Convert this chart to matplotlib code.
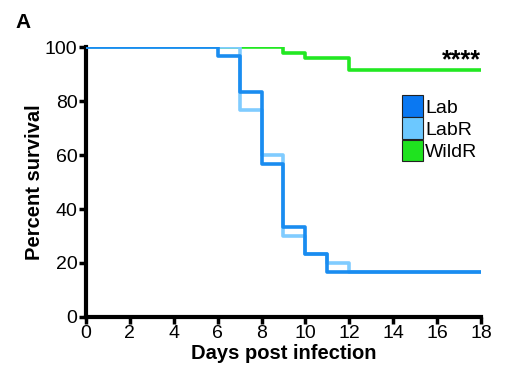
import numpy as np
import matplotlib.pyplot as plt
from matplotlib.patches import Patch

plt.rcParams['font.family'] = ['Liberation Sans', 'DejaVu Sans']

# step survival curves (day, percent)
lab_days = [0, 6, 7, 8, 9, 10, 11, 18]
lab_surv = [100, 96.7, 83.3, 56.7, 33.3, 23.3, 16.7, 16.7]

labr_days = [0, 7, 8, 9, 10, 11, 12, 18]
labr_surv = [100, 76.7, 60.0, 30.0, 23.3, 20.0, 16.7, 16.7]

wild_days = [0, 9, 10, 12, 18]
wild_surv = [100, 97.9, 95.8, 91.7, 91.7]

labels = ['Lab', 'LabR', 'WildR']
line_cols = ['#1a8cf0', '#80ccff', '#22e822']
legend_cols = ['#0a78f2', '#6cc8ff', '#1fe31f']

fig = plt.figure(figsize=(5.08, 3.80), dpi=100)
ax = fig.add_axes([0.169, 0.166, 0.778, 0.710])

ax.step(wild_days, wild_surv, where='post', color=line_cols[2], lw=2.6, zorder=2)
ax.step(labr_days, labr_surv, where='post', color=line_cols[1], lw=2.6, zorder=3)
ax.step(lab_days, lab_surv, where='post', color=line_cols[0], lw=2.6, zorder=4)

ax.set_xlim(0, 18)
ax.set_ylim(0, 100)
ax.set_xticks(np.arange(0, 19, 2))
ax.set_yticks(np.arange(0, 101, 20))
for s in ['top', 'right']:
    ax.spines[s].set_visible(False)
for s in ['left', 'bottom']:
    ax.spines[s].set_linewidth(3)
    ax.spines[s].set_clip_on(False)
ax.tick_params(width=2.5, length=5, labelsize=14, pad=1)
ax.set_xlabel('Days post infection', fontsize=14.5, fontweight='bold', labelpad=1)
ax.set_ylabel('Percent survival', fontsize=14.5, fontweight='bold', labelpad=1)

ax.text(18, 90.6, '****', ha='right', va='bottom', fontsize=18, fontweight='bold')
fig.text(0.03, 0.925, 'A', fontsize=15, fontweight='bold')

handles = [Patch(facecolor=c, edgecolor='#222222', linewidth=0.8) for c in legend_cols]
ax.legend(handles, labels, loc='upper left', bbox_to_anchor=(0.775, 0.858),
          frameon=False, fontsize=14, handlelength=1.1, handleheight=1.35,
          handletextpad=0.1, labelspacing=0.02, borderpad=0)

fig.savefig('out.png', dpi=100)
